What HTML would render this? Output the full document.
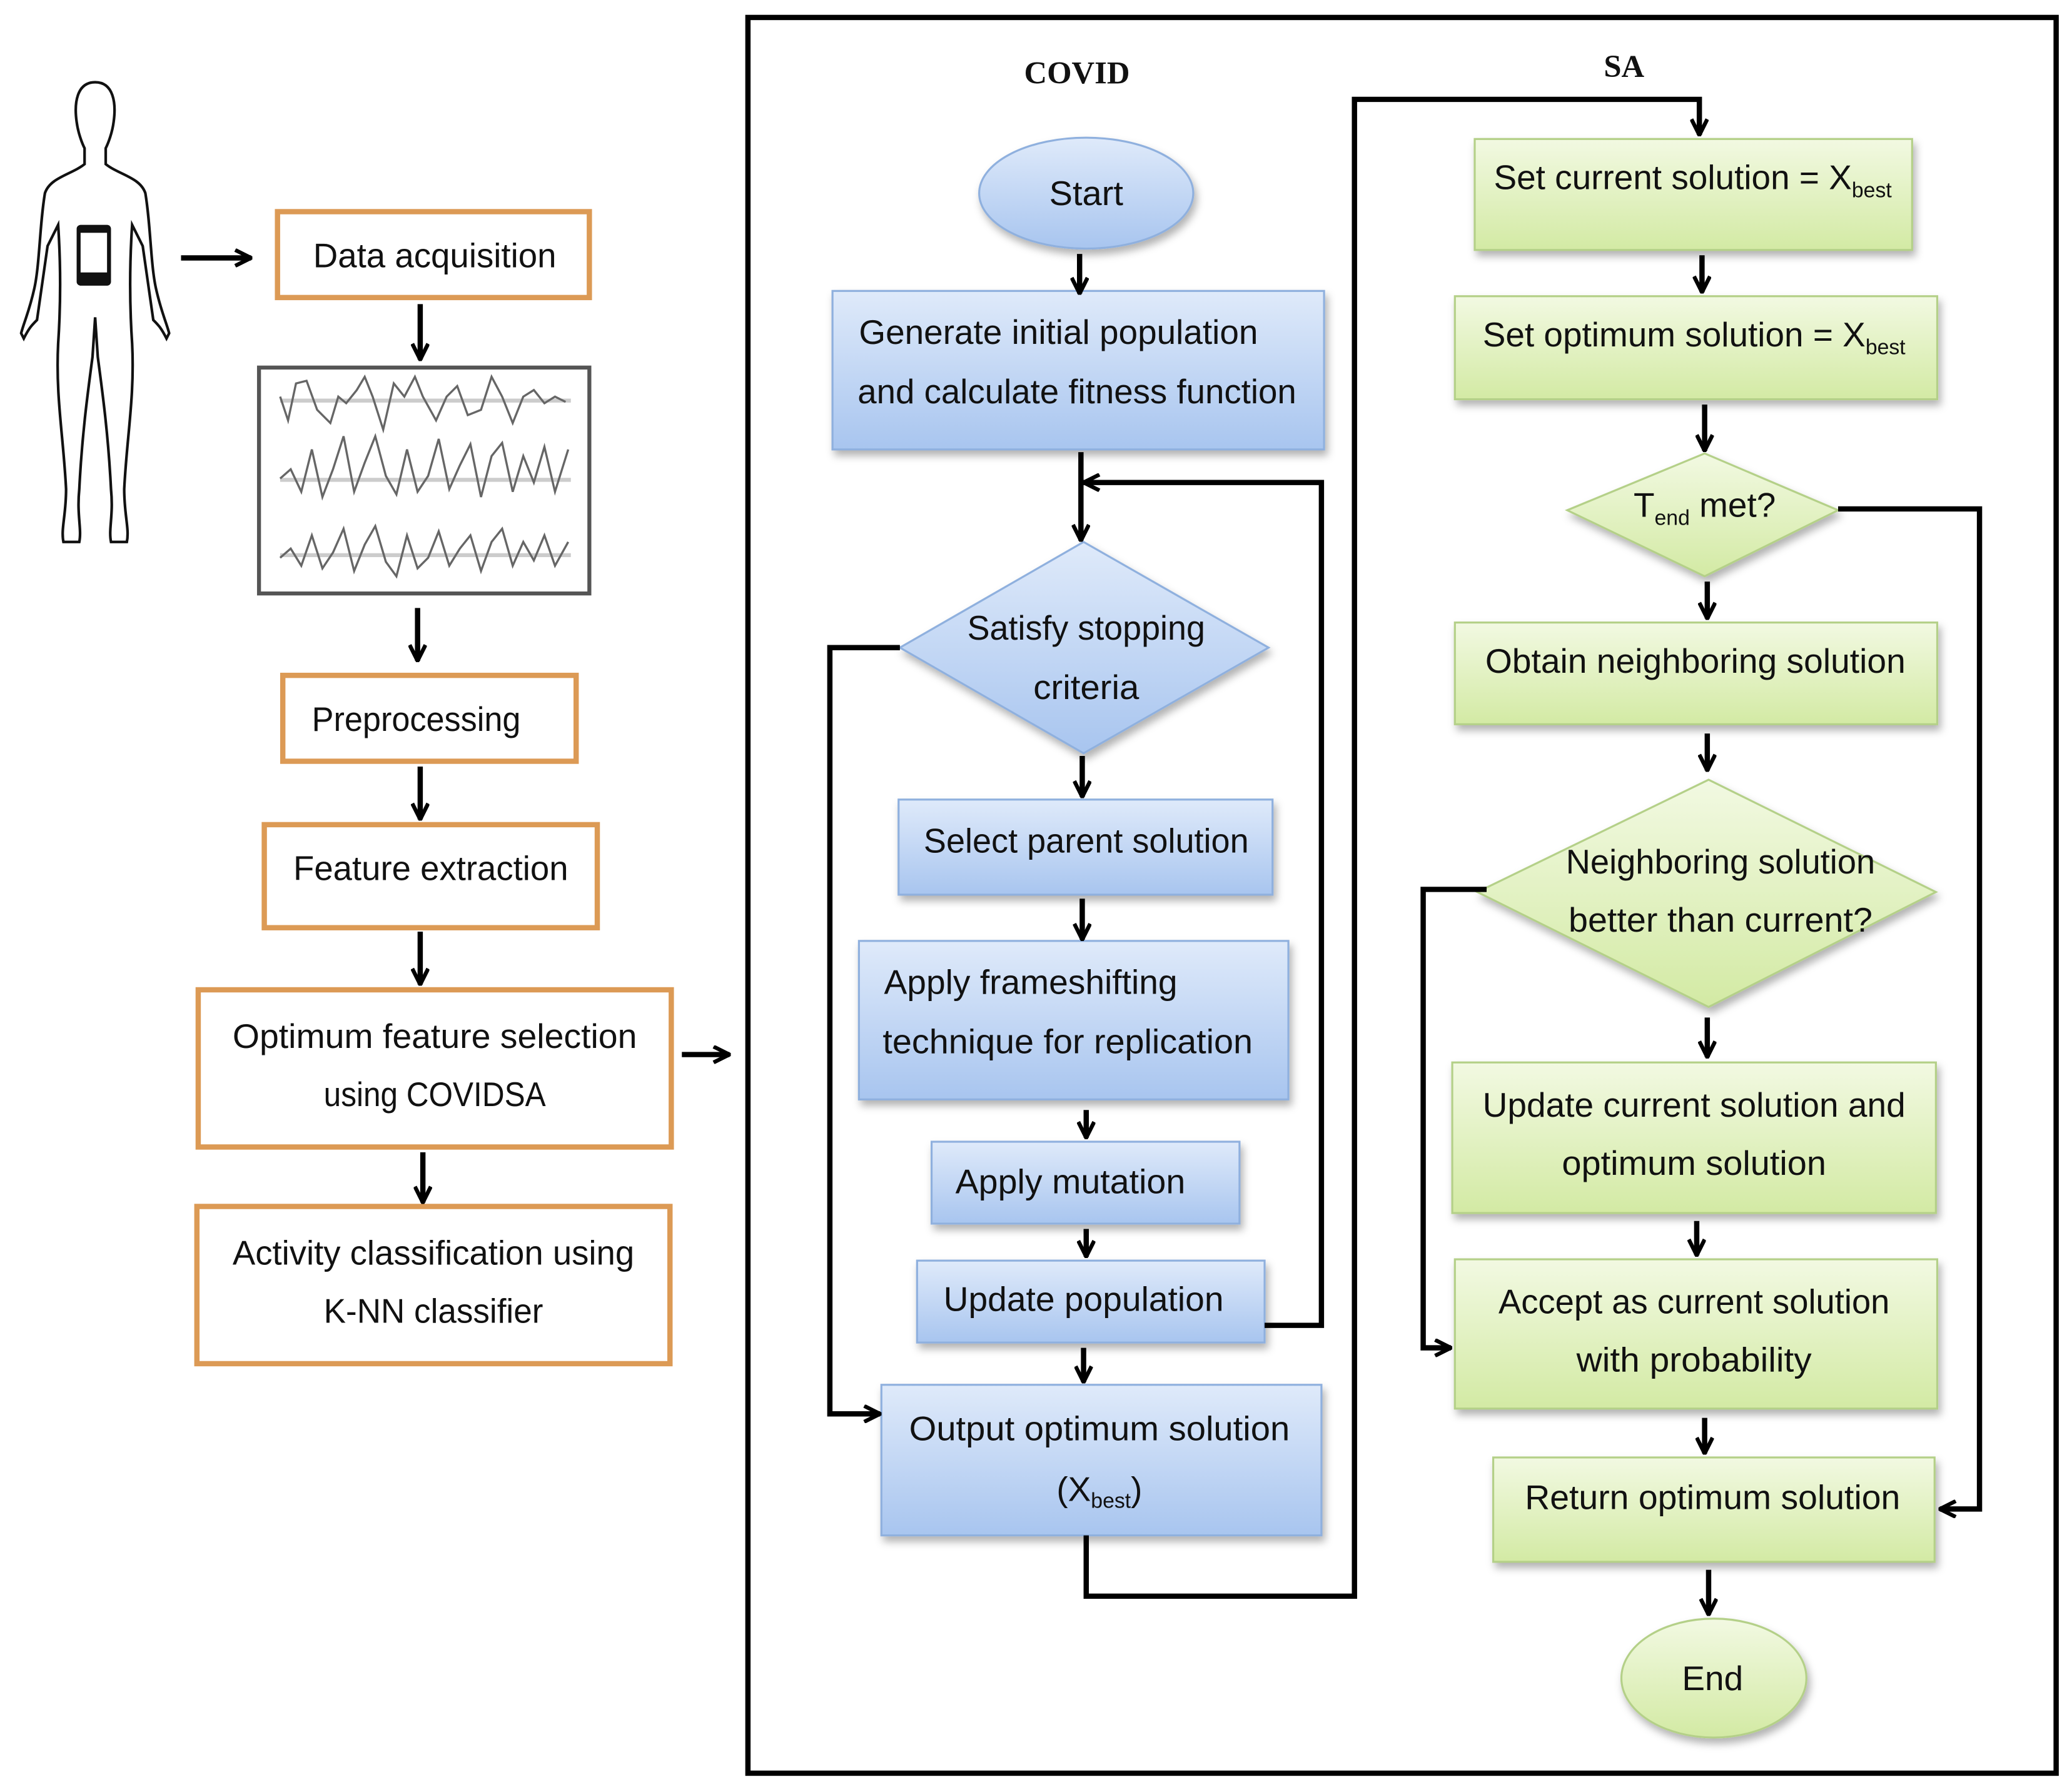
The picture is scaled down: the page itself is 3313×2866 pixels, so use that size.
<!DOCTYPE html>
<html><head><meta charset="utf-8"><style>
html,body{margin:0;padding:0;background:#fff}
svg{display:block}
text{font-family:"Liberation Sans",sans-serif;fill:#111}
</style></head><body>
<svg width="3313" height="2866" viewBox="0 0 1568 1356" xmlns="http://www.w3.org/2000/svg">
<defs>
<linearGradient id="gb" x1="0" y1="0" x2="0" y2="1"><stop offset="0" stop-color="#dfeafa"/><stop offset="1" stop-color="#a8c5ef"/></linearGradient>
<linearGradient id="gg" x1="0" y1="0" x2="0" y2="1"><stop offset="0" stop-color="#f2f9e2"/><stop offset="1" stop-color="#d3eaa4"/></linearGradient>
<filter id="sh" x="-10%" y="-10%" width="130%" height="140%"><feDropShadow dx="2" dy="4" stdDeviation="3" flood-color="#000" flood-opacity="0.3"/></filter>
<marker id="ar" viewBox="0 0 14 14" refX="13" refY="7" markerWidth="14" markerHeight="14" markerUnits="userSpaceOnUse" orient="auto"><path d="M1,1 L13,7 L1,13" fill="none" stroke="#000" stroke-width="3"/></marker>
</defs>
<rect x="0" y="0" width="1568" height="1356" fill="#fff"/>
<rect x="566" y="13" width="990" height="1329" fill="none" stroke="#000" stroke-width="4"/>

<!-- human -->
<g fill="none" stroke="#111" stroke-width="2">
<path d="M72,62 C58,62 56,78 58,92 C59,100 62,108 64,112 L64,124 C54,132 38,134 34,146 C30,170 30,200 26,218 C22,236 18,244 16,252 L18,256 C22,248 24,246 28,242 L36,186 L44,170 C46,200 46,230 44,260 C42,300 48,330 50,370 C50,390 46,400 48,410 L60,410 C62,400 58,390 60,370 C62,330 66,300 70,270 L72,240 L74,270 C78,300 82,330 84,370 C86,390 82,400 84,410 L96,410 C98,400 94,390 94,370 C96,330 102,300 100,260 C98,230 98,200 100,170 L108,186 L116,242 C120,246 122,248 126,256 L128,252 C126,244 122,236 118,218 C114,200 114,170 110,146 C106,134 90,132 80,124 L80,112 C82,108 85,100 86,92 C88,78 86,62 72,62 Z"/>
</g>
<rect x="58" y="170" width="26" height="46" rx="3" fill="#111"/>
<rect x="61" y="176" width="20" height="30" fill="#fff"/>

<!-- left flow -->
<g fill="#fff" stroke="#dc9a55" stroke-width="4">
<rect x="210" y="160" width="236" height="65"/>
<rect x="214" y="511" width="222" height="65"/>
<rect x="200" y="624" width="252" height="78"/>
<rect x="150" y="749" width="358" height="119"/>
<rect x="149" y="913" width="358" height="119"/>
</g>
<rect x="196" y="278" width="250" height="171" fill="#fff" stroke="#555" stroke-width="3"/>
<g stroke="#ccc" stroke-width="3"><line x1="212" y1="303" x2="432" y2="303"/><line x1="212" y1="363" x2="432" y2="363"/><line x1="212" y1="420" x2="432" y2="420"/></g>
<g fill="none" stroke="#666" stroke-width="1.6">
<path d="M212,300 L218,318 L224,290 L232,288 L240,310 L250,320 L256,300 L262,305 L270,295 L276,285 L282,300 L290,325 L298,290 L306,300 L314,285 L320,300 L330,318 L338,300 L346,292 L354,314 L364,310 L372,285 L380,300 L388,320 L396,300 L404,295 L412,305 L420,300 L428,304"/>
<path d="M212,362 L220,355 L228,372 L236,340 L244,376 L252,355 L260,330 L268,372 L276,350 L284,330 L292,360 L300,374 L308,340 L316,372 L324,360 L332,332 L340,370 L348,352 L356,336 L364,376 L372,345 L380,335 L388,372 L396,345 L404,365 L412,338 L420,372 L430,340"/>
<path d="M212,422 L220,415 L228,428 L236,405 L244,430 L252,418 L260,400 L268,432 L276,412 L284,398 L292,425 L300,436 L308,405 L316,430 L324,422 L332,402 L340,428 L348,415 L356,405 L364,432 L372,410 L380,400 L388,428 L396,410 L404,424 L412,405 L420,428 L430,410"/>
</g>
<g font-size="26" text-anchor="middle">
<text x="329" y="202" textLength="184" lengthAdjust="spacingAndGlyphs">Data acquisition</text>
<text x="315" y="553" textLength="158" lengthAdjust="spacingAndGlyphs">Preprocessing</text>
<text x="326" y="666" textLength="208" lengthAdjust="spacingAndGlyphs">Feature extraction</text>
<text x="329" y="793" textLength="306" lengthAdjust="spacingAndGlyphs">Optimum feature selection</text>
<text x="329" y="837" textLength="168" lengthAdjust="spacingAndGlyphs">using COVIDSA</text>
<text x="328" y="957" textLength="304" lengthAdjust="spacingAndGlyphs">Activity classification using</text>
<text x="328" y="1001" textLength="166" lengthAdjust="spacingAndGlyphs">K-NN classifier</text>
</g>
<g stroke="#000" stroke-width="4" fill="none" marker-end="url(#ar)">
<line x1="137" y1="195" x2="190" y2="195"/>
<line x1="318" y1="230" x2="318" y2="272"/>
<line x1="316" y1="460" x2="316" y2="500"/>
<line x1="318" y1="580" x2="318" y2="620"/>
<line x1="318" y1="705" x2="318" y2="745"/>
<line x1="320" y1="872" x2="320" y2="910"/>
<line x1="516" y1="798" x2="552" y2="798"/>
</g>

<!-- titles -->
<text x="815" y="63" style="font-family:'Liberation Serif',serif;font-weight:bold;font-size:24px" text-anchor="middle">COVID</text>
<text x="1229" y="58" style="font-family:'Liberation Serif',serif;font-weight:bold;font-size:24px" text-anchor="middle">SA</text>

<!-- COVID shapes -->
<g fill="url(#gb)" stroke="#8fb0de" stroke-width="1.5" filter="url(#sh)">
<ellipse cx="822" cy="146" rx="81" ry="42"/>
<rect x="630" y="220" width="372" height="120"/>
<polygon points="820,410 960,490 820,570 681,490"/>
<rect x="680" y="605" width="283" height="72"/>
<rect x="650" y="712" width="325" height="120"/>
<rect x="705" y="864" width="233" height="62"/>
<rect x="694" y="954" width="263" height="62"/>
<rect x="667" y="1048" width="333" height="114"/>
</g>
<g fill="url(#gg)" stroke="#b4d088" stroke-width="1.5" filter="url(#sh)">
<rect x="1116" y="105" width="331" height="84"/>
<rect x="1101" y="224" width="365" height="78"/>
<polygon points="1290,343 1391,386 1290,436 1186,386"/>
<rect x="1101" y="471" width="365" height="77"/>
<polygon points="1293,590 1465,675 1293,762 1118,675"/>
<rect x="1099" y="804" width="366" height="114"/>
<rect x="1101" y="953" width="365" height="113"/>
<rect x="1130" y="1103" width="334" height="79"/>
<ellipse cx="1297" cy="1270" rx="70" ry="45"/>
</g>

<g font-size="26" text-anchor="middle">
<text x="822" y="155" textLength="56" lengthAdjust="spacingAndGlyphs">Start</text>
<text x="801" y="260" textLength="302" lengthAdjust="spacingAndGlyphs">Generate initial population</text>
<text x="815" y="305" textLength="332" lengthAdjust="spacingAndGlyphs">and calculate fitness function</text>
<text x="822" y="484" textLength="180" lengthAdjust="spacingAndGlyphs">Satisfy stopping</text>
<text x="822" y="529" textLength="80" lengthAdjust="spacingAndGlyphs">criteria</text>
<text x="822" y="645" textLength="246" lengthAdjust="spacingAndGlyphs">Select parent solution</text>
<text x="780" y="752" textLength="222" lengthAdjust="spacingAndGlyphs">Apply frameshifting</text>
<text x="808" y="797" textLength="280" lengthAdjust="spacingAndGlyphs">technique for replication</text>
<text x="810" y="903" textLength="174" lengthAdjust="spacingAndGlyphs">Apply mutation</text>
<text x="820" y="992" textLength="212" lengthAdjust="spacingAndGlyphs">Update population</text>
<text x="832" y="1090" textLength="288" lengthAdjust="spacingAndGlyphs">Output optimum solution</text>
<text x="832" y="1136">(X<tspan font-size="16" dy="5">best</tspan><tspan dy="-5">)</tspan></text>

<text x="1281" y="143">Set current solution = X<tspan font-size="16" dy="6">best</tspan></text>
<text x="1282" y="262">Set optimum solution = X<tspan font-size="16" dy="6">best</tspan></text>
<text x="1290" y="391">T<tspan font-size="16" dy="6">end</tspan><tspan dy="-6"> met?</tspan></text>
<text x="1283" y="509" textLength="318" lengthAdjust="spacingAndGlyphs">Obtain neighboring solution</text>
<text x="1302" y="661" textLength="234" lengthAdjust="spacingAndGlyphs">Neighboring solution</text>
<text x="1302" y="705" textLength="230" lengthAdjust="spacingAndGlyphs">better than current?</text>
<text x="1282" y="845" textLength="320" lengthAdjust="spacingAndGlyphs">Update current solution and</text>
<text x="1282" y="889" textLength="200" lengthAdjust="spacingAndGlyphs">optimum solution</text>
<text x="1282" y="994" textLength="296" lengthAdjust="spacingAndGlyphs">Accept as current solution</text>
<text x="1282" y="1038" textLength="178" lengthAdjust="spacingAndGlyphs">with probability</text>
<text x="1296" y="1142" textLength="284" lengthAdjust="spacingAndGlyphs">Return optimum solution</text>
<text x="1296" y="1279">End</text>
</g>

<!-- connectors -->
<g stroke="#000" stroke-width="4" fill="none">
<polyline points="957,1003 1000,1003 1000,365 820,365" marker-end="url(#ar)"/>
<polyline points="681,490 628,490 628,1070 666,1070" marker-end="url(#ar)"/>
<polyline points="822,1162 822,1208 1025,1208 1025,75 1286,75 1286,102" marker-end="url(#ar)"/>
<polyline points="1391,385 1498,385 1498,1142 1468,1142" marker-end="url(#ar)"/>
<polyline points="1125,673 1077,673 1077,1020 1098,1020" marker-end="url(#ar)"/>
</g>
<g stroke="#000" stroke-width="4" fill="none" marker-end="url(#ar)">
<line x1="817" y1="192" x2="817" y2="222"/>
<line x1="818" y1="342" x2="818" y2="409"/>
<line x1="819" y1="572" x2="819" y2="603"/>
<line x1="819" y1="680" x2="819" y2="711"/>
<line x1="822" y1="840" x2="822" y2="861"/>
<line x1="822" y1="930" x2="822" y2="951"/>
<line x1="820" y1="1020" x2="820" y2="1046"/>
<line x1="1288" y1="193" x2="1288" y2="221"/>
<line x1="1290" y1="306" x2="1290" y2="341"/>
<line x1="1292" y1="440" x2="1292" y2="468"/>
<line x1="1292" y1="555" x2="1292" y2="583"/>
<line x1="1292" y1="770" x2="1292" y2="800"/>
<line x1="1284" y1="924" x2="1284" y2="950"/>
<line x1="1290" y1="1073" x2="1290" y2="1100"/>
<line x1="1293" y1="1188" x2="1293" y2="1222"/>
</g>
</svg>
</body></html>
